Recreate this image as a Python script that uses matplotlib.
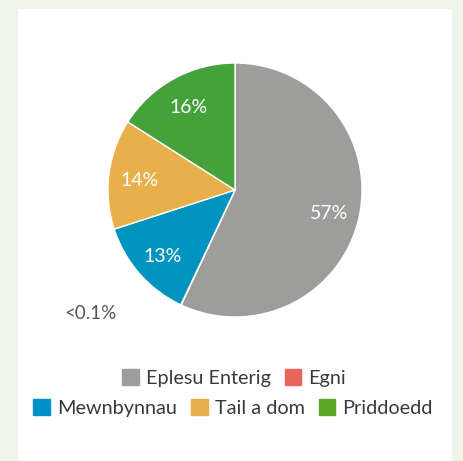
import matplotlib.pyplot as plt
import matplotlib.patches as mpatches
import numpy as np

plt.rcParams['font.family'] = ['Lato', 'DejaVu Sans']

# data
categories = ['Eplesu Enterig', 'Egni', 'Mewnbynnau', 'Tail a dom', 'Priddoedd']
shares = [57, 0.05, 13, 14, 16]
share_labels = ['57%', '<0.1%', '13%', '14%', '16%']
colors = ['#9d9d9c', '#ea645a', '#0093c0', '#e8b04a', '#45a23a']
legend_colors = ['#9d9d9c', '#ea645a', '#0090c8', '#e8b04a', '#5ea82c']

fig = plt.figure(figsize=(4.64, 4.61), dpi=100)
fig.patch.set_facecolor('#eef4e8')

# white panel
fig.patches.append(mpatches.Rectangle((18/464, 0), 434/464, 1 - 9/461,
                                      transform=fig.transFigure,
                                      facecolor='white', edgecolor='none', zorder=-5))

ax = fig.add_axes([57.2/464, 93.2/461, 355.6/464, 355.6/461])
ax.set_facecolor('none')
ax.set_zorder(2)
wedges, _ = ax.pie(shares, colors=colors, startangle=90, counterclock=False,
                   radius=1, wedgeprops=dict(edgecolor='white', linewidth=1))
ax.set_xlim(-1.4, 1.4)
ax.set_ylim(-1.4, 1.4)
ax.axis('off')

# percentage labels inside the slices
for w, lab, val in zip(wedges, share_labels, shares):
    if val < 1:
        continue
    mid = np.deg2rad((w.theta1 + w.theta2) / 2)
    ax.text(0.76*np.cos(mid), 0.76*np.sin(mid) - 0.02, lab, color='white',
            fontsize=14, ha='center', va='center')

# tiny slice label outside
ax.text(-1.14, -0.97, share_labels[1], color='#555555', fontsize=13.5,
        ha='center', va='center')

handles = [mpatches.Patch(color=c, label=l) for c, l in zip(legend_colors, categories)]
kw = dict(frameon=False, fontsize=14.3, handlelength=0.85, handleheight=0.85,
          handletextpad=0.35, columnspacing=0.7, labelcolor='#3a3a3a',
          loc='center', borderaxespad=0, borderpad=0)
leg1 = fig.legend(handles=handles[:2], ncol=2, bbox_to_anchor=(234/464, 1 - 378/461), **kw)
leg2 = fig.legend(handles=handles[2:], ncol=3, bbox_to_anchor=(233/464, 1 - 408/461), **kw)

fig.savefig('out.png', dpi=100, facecolor=fig.get_facecolor())
